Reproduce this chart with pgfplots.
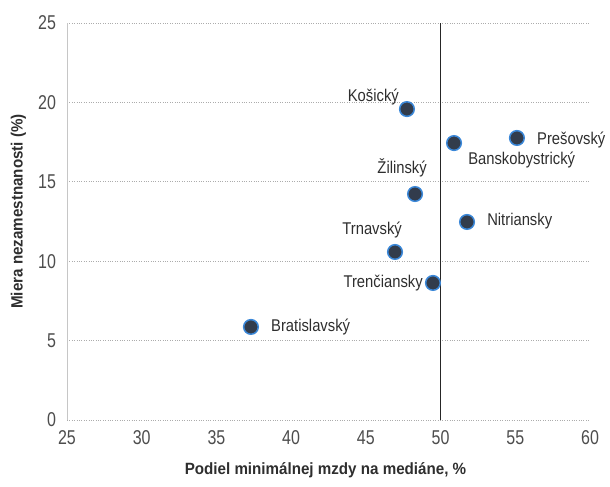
\documentclass[border=0pt]{standalone}
\usepackage{fontspec}
\setmainfont{Liberation Sans}[FakeStretch=0.87]
\newfontfamily\tickfont{Liberation Sans}[FakeStretch=0.8]
\newfontfamily\labfont{Liberation Sans}[FakeStretch=0.93]
\usepackage{pgfplots}
\pgfplotsset{compat=1.18}
\definecolor{mk}{HTML}{323C4C}
\definecolor{mkedge}{HTML}{3A87D8}
\definecolor{txt}{HTML}{2E2E2E}
\begin{document}
\begin{tikzpicture}[x=1bp,y=1bp]
\begin{axis}[
  scale only axis, width=523bp, height=397bp, at={(0,0)}, anchor=south west,
  xmin=25, xmax=60, ymin=0, ymax=25,
  xtick={25,30,...,60}, ytick={0,5,...,25},
  axis line style={draw=none}, tick style={draw=none},
  ymajorgrids, grid style={gray!65, dotted, line width=0.8pt},
  /pgf/number format/assume math mode=true,
  tick label style={font=\tickfont\fontsize{20bp}{22bp}\selectfont, text=txt!85},
  yticklabel style={xshift=-7.5bp},
  xticklabel style={yshift=-7bp},
  xlabel={Podiel minimálnej mzdy na mediáne, \%},
  ylabel={Miera nezamestnanosti (\%)},
  label style={font=\labfont\bfseries\fontsize{16.3bp}{18bp}\selectfont, text=txt},
  xlabel style={at={(axis description cs:0.5,0)}, anchor=center, yshift=-50bp, xshift=-3bp},
  ylabel style={at={(axis description cs:0,0.5)}, anchor=center, xshift=10bp, yshift=48.5bp},
  clip=false,
]
\draw[gray!45, line width=0.6pt] (axis cs:25,0) -- (axis cs:25,25);
\draw[black!85, line width=1.1pt] (axis cs:50,0) -- (axis cs:50,25);
\addplot[only marks, mark=*, mark size=7.3bp, mark options={fill=mk, draw=mkedge, line width=1.5bp}]
coordinates {
 (47.75,19.58) (55.11,17.76) (50.90,17.44) (48.29,14.23)
 (51.77,12.47) (46.95,10.58) (49.49,8.63) (37.31,5.86)
};
\begin{scope}[every node/.style={font=\fontsize{17bp}{19bp}\selectfont, text=txt, inner sep=0pt}]
\node[anchor=east] at (axis cs:47.22,20.34) {Košický};
\node[anchor=west] at (axis cs:56.45,17.63) {Prešovský};
\node[anchor=west] at (axis cs:51.84,16.37) {Banskobystrický};
\node[anchor=east] at (axis cs:49.09,15.87) {Žilinský};
\node[anchor=west] at (axis cs:53.11,12.53) {Nitriansky};
\node[anchor=east] at (axis cs:47.42,11.96) {Trnavský};
\node[anchor=east] at (axis cs:48.82,8.63) {Trenčiansky};
\node[anchor=west] at (axis cs:38.65,5.86) {Bratislavský};
\end{scope}
\end{axis}
\path[use as bounding box] (-67,-67) rectangle (543,420);
\end{tikzpicture}
\end{document}
